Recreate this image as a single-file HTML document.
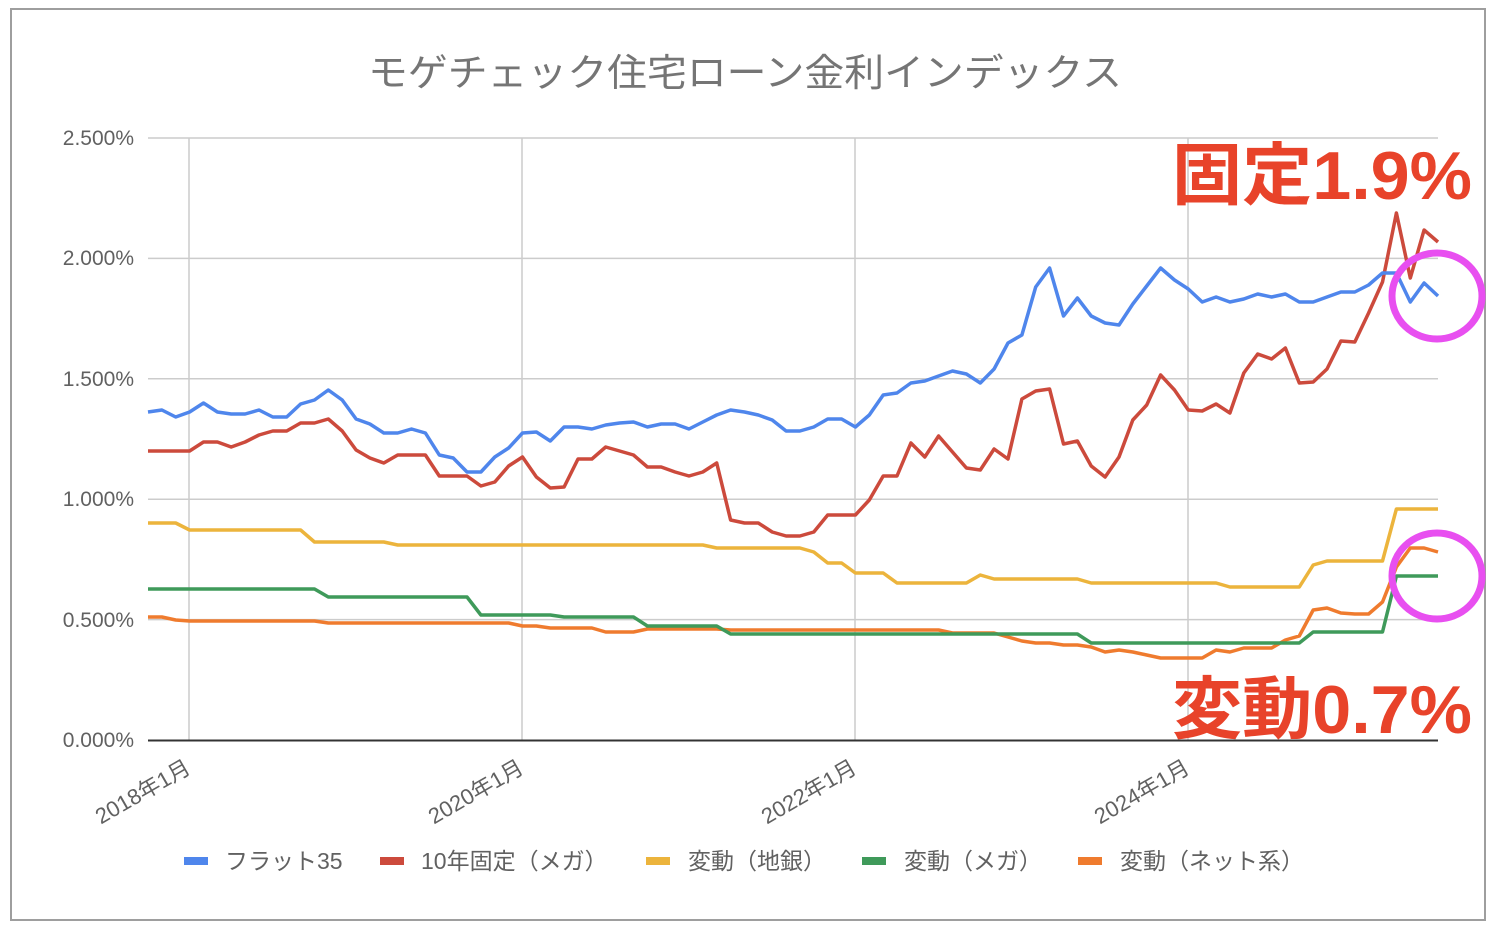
<!DOCTYPE html>
<html><head><meta charset="utf-8"><style>
html,body{margin:0;padding:0;background:#fff}
svg{display:block}
text{font-family:"Liberation Sans","Noto Sans CJK JP",sans-serif}
</style></head><body>
<svg id="s" width="1498" height="928" viewBox="0 0 1498 928" xmlns="http://www.w3.org/2000/svg">
<rect x="11" y="9" width="1474" height="911" fill="#fff" stroke="#9e9e9e" stroke-width="2"/>
<text x="368" y="86" font-size="38" fill="#757575" textLength="754" lengthAdjust="spacingAndGlyphs">モゲチェック住宅ローン金利インデックス</text>
<g stroke="#cccccc" stroke-width="1.5">
<line x1="148" y1="138" x2="1438" y2="138"/>
<line x1="148" y1="258.4" x2="1438" y2="258.4"/>
<line x1="148" y1="378.8" x2="1438" y2="378.8"/>
<line x1="148" y1="499.2" x2="1438" y2="499.2"/>
<line x1="148" y1="619.6" x2="1438" y2="619.6"/>
<line x1="189" y1="138" x2="189" y2="740"/>
<line x1="522" y1="138" x2="522" y2="740"/>
<line x1="855" y1="138" x2="855" y2="740"/>
<line x1="1188" y1="138" x2="1188" y2="740"/>
</g>
<g font-size="21" fill="#616161" text-anchor="end">
<text x="134" y="145">2.500%</text>
<text x="134" y="265">2.000%</text>
<text x="134" y="386">1.500%</text>
<text x="134" y="506">1.000%</text>
<text x="134" y="627">0.500%</text>
<text x="134" y="747">0.000%</text>
</g>
<g font-size="22" fill="#616161" text-anchor="end">
<text transform="translate(192,772) rotate(-30)">2018年1月</text>
<text transform="translate(525,772) rotate(-30)">2020年1月</text>
<text transform="translate(858,772) rotate(-30)">2022年1月</text>
<text transform="translate(1191,772) rotate(-30)">2024年1月</text>
</g>
<g id="lines" fill="none" stroke-width="3.5" stroke-linejoin="round"></g>
<line x1="148" y1="740.5" x2="1438" y2="740.5" stroke="#333" stroke-width="2"/>
<g font-size="23" fill="#616161">
<rect x="184" y="857" width="24" height="8" fill="#4f86ec"/><text x="225" y="869">フラット35</text>
<rect x="380" y="857" width="24" height="8" fill="#cc4a3c"/><text x="421" y="869">10年固定（メガ）</text>
<rect x="646" y="857" width="24" height="8" fill="#ecb43c"/><text x="688" y="869">変動（地銀）</text>
<rect x="862" y="857" width="24" height="8" fill="#3f9a5a"/><text x="904" y="869">変動（メガ）</text>
<rect x="1078" y="857" width="24" height="8" fill="#ef7b2e"/><text x="1120" y="869">変動（ネット系）</text>
</g>
<g fill="none" stroke="#e84ff0" stroke-width="7">
<ellipse cx="1437" cy="296" rx="45" ry="43"/>
<ellipse cx="1437" cy="576" rx="45" ry="43"/>
</g>
<g font-size="68" font-weight="bold" fill="#e8432a">
<text x="1172" y="199" textLength="300" lengthAdjust="spacingAndGlyphs">固定1.9%</text>
<text x="1172" y="733" textLength="300" lengthAdjust="spacingAndGlyphs">変動0.7%</text>
</g>
</svg>
<script>
function exp(spec){var a=[];spec.forEach(function(p){for(var i=0;i<p[0];i++)a.push(p[1]);});return a;}
var blue=[412,410,417,412,403,412,414,414,410,417,417,404,400,390,400,419,424,433,433,429,433,455,458,472,472,457,448,433,432,441,427,427,429,425,423,422,427,424,424,429,422,415,410,412,415,420,431,431,427,419,419,427,415,395,393,383,381,376,371,374,383,369,343,335,287,268,316,298,316,323,325,304,286,268,280,289,302,297,302,299,294,297,294,302,302,297,292,292,285,273,273,302,283,296];
var red=[451,451,451,451,442,442,447,442,435,431,431,423,423,419,431,450,458,463,455,455,455,476,476,476,486,482,466,457,477,488,487,459,459,447,451,455,467,467,472,476,472,463,520,523,523,532,536,536,532,515,515,515,500,476,476,443,457,436,452,468,470,449,459,399,391,389,444,441,466,477,457,420,405,375,390,410,411,404,413,373,354,359,348,383,382,369,341,342,313,282,213,278,230,242];
var yel=exp([[3,523],[9,530],[6,542],[23,545],[7,548],[1,552],[2,563],[3,573],[6,583],[1,575],[7,579],[10,583],[6,587],[1,565],[5,561],[4,509]]);
var grn=exp([[13,589],[11,597],[6,615],[6,617],[6,626],[26,634],[16,643],[6,632],[4,576]]);
var org=[617,617,620].concat(exp([[10,621],[14,623],[2,626],[4,628],[3,632],[6,629],[16,630],[4,633]])).concat([637,641,643,643,645,645,647,652,650,652,655,658,658,658,658,650,652,648,648,648,640,636,610,608,613,614,614,602,567,548,548,552]);
var g=document.getElementById('lines');
[[org,'#ef7b2e'],[grn,'#3f9a5a'],[yel,'#ecb43c'],[red,'#cc4a3c'],[blue,'#4f86ec']].forEach(function(s){
 var pts=s[0].map(function(y,i){return (148+i*13.871).toFixed(1)+','+y;}).join(' ');
 var p=document.createElementNS('http://www.w3.org/2000/svg','polyline');
 p.setAttribute('points',pts);p.setAttribute('stroke',s[1]);g.appendChild(p);
});
</script>
</body></html>
